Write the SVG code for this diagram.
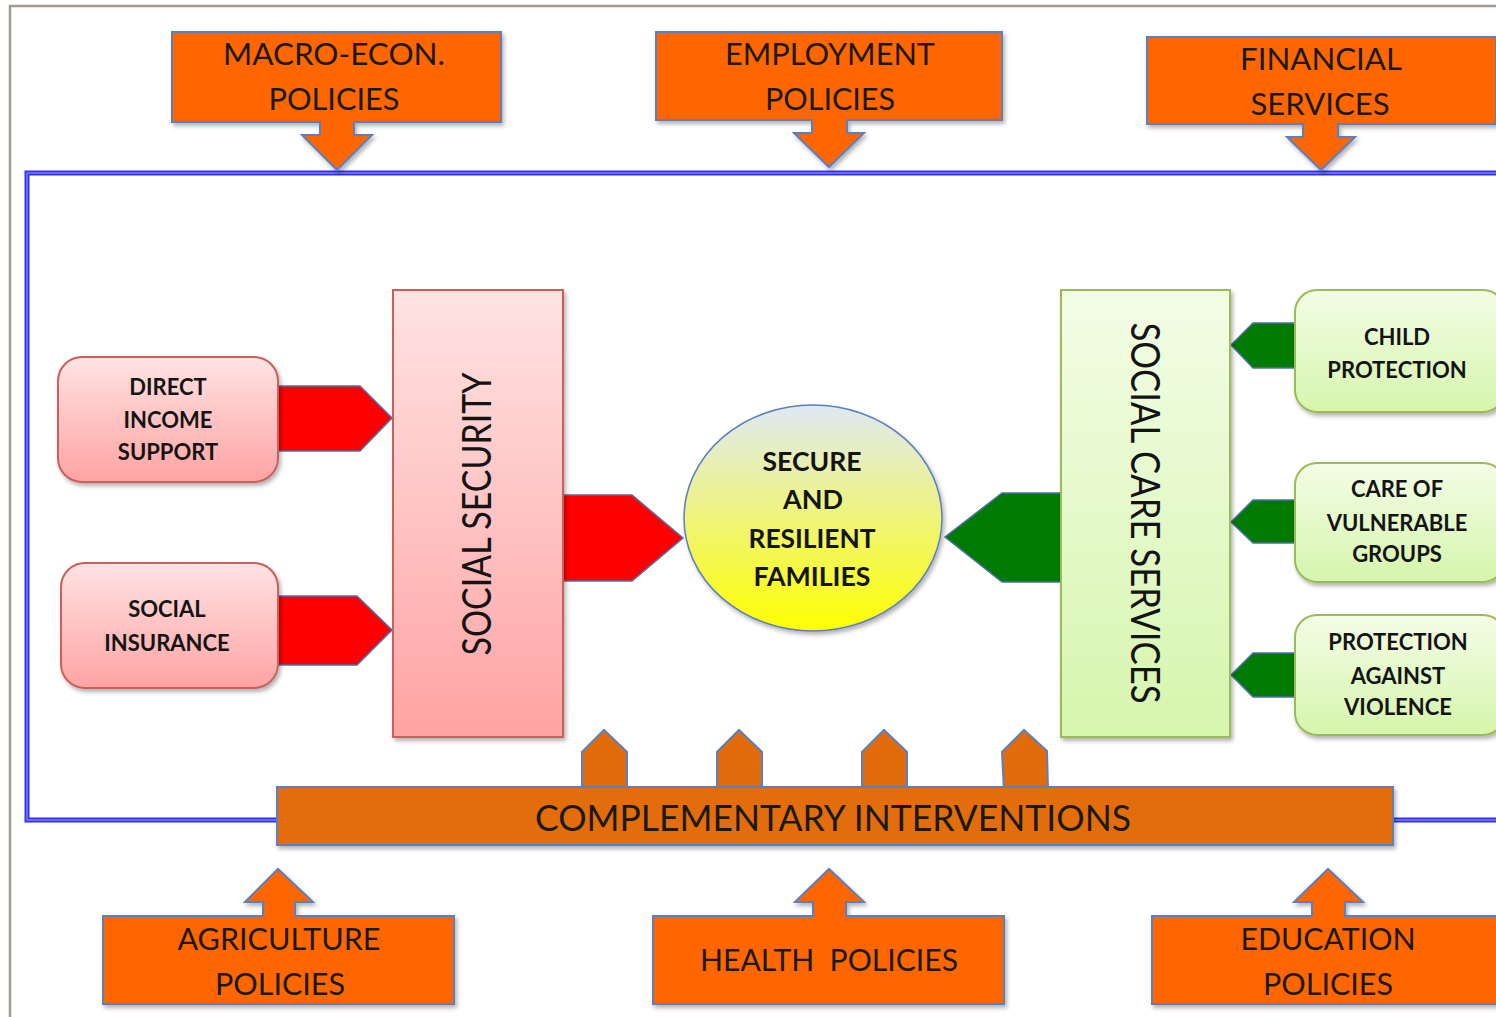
<svg xmlns="http://www.w3.org/2000/svg" width="1496" height="1017" viewBox="0 0 1496 1017">
<defs>
<style>
.pol{fill:#ff6600;stroke:#5b7fbf;stroke-width:2;filter:url(#sh)}
.ptx{font-family:Lato,"Open Sans",sans-serif;font-size:30px;fill:#1a1a0a;text-anchor:middle}
.bx{font-family:Lato,"Open Sans",sans-serif;font-size:22px;font-weight:bold;fill:#141414;text-anchor:middle}
.cx{font-family:Lato,"Open Sans",sans-serif;font-size:26px;font-weight:bold;fill:#141414;text-anchor:middle}
.red{fill:#ff0000;stroke:#4f6fb0;stroke-width:1.5}
.grn{fill:#007a00;stroke:#4f6fb0;stroke-width:1.5}
.up{fill:#e36c0a;stroke:#5b7fbf;stroke-width:2}
</style>
<filter id="sh" x="-10%" y="-10%" width="125%" height="130%">
<feDropShadow dx="2" dy="3" stdDeviation="2" flood-color="#000" flood-opacity="0.3"/>
</filter>
<linearGradient id="pink" x1="0" y1="0" x2="0" y2="1">
<stop offset="0" stop-color="#ffe3e3"/><stop offset="1" stop-color="#ffa3a3"/>
</linearGradient>
<linearGradient id="lgreen" x1="0" y1="0" x2="0" y2="1">
<stop offset="0" stop-color="#f3fde6"/><stop offset="1" stop-color="#d6f5ad"/>
</linearGradient>
<linearGradient id="circ" x1="0" y1="0" x2="0" y2="1">
<stop offset="0" stop-color="#dfe9f3"/><stop offset="1" stop-color="#ffff00"/>
</linearGradient>
</defs>
<rect width="1496" height="1017" fill="#ffffff"/>
<!-- page border -->
<path d="M10,1017 V6 H1496" fill="none" stroke="#a39a92" stroke-width="2.5"/>
<!-- blue frame -->
<g id="frame">
<rect x="27" y="173" width="1480" height="647" fill="none" stroke="#3030f0" stroke-width="5"/>
<rect x="27" y="173" width="1480" height="647" fill="none" stroke="#8a8aff" stroke-width="1.3"/>
</g>
<!-- connectors -->
<g id="connectors">
<path class="red" d="M278,386 H360 L392,418 L360,451 H278 Z"/>
<path class="red" d="M278,596 H357 L392,630 L357,665 H278 Z"/>
<path class="red" d="M563,495 H632 L683,538 L632,581 H563 Z"/>
<path class="grn" d="M1061,493 H1002 L945,537 L1002,582 H1061 Z"/>
<path class="grn" d="M1295,323 H1253 L1231,345 L1253,368 H1295 Z"/>
<path class="grn" d="M1295,500 H1253 L1231,522 L1253,543 H1295 Z"/>
<path class="grn" d="M1295,653 H1253 L1231,675 L1253,697 H1295 Z"/>
<path class="up" d="M582,790 V752 L604,730 L627,752 V790 Z"/>
<path class="up" d="M717,790 V752 L739,730 L762,752 V790 Z"/>
<path class="up" d="M862,790 V752 L884,730 L907,752 V790 Z"/>
<path class="up" d="M1004,791 L1002,752 L1024,730 L1047,751 L1048,790 Z"/>
</g>
<!-- top policy nodes -->
<g id="macro">
<path class="pol" d="M172,32 H501 V122 H354 V135 H372 L337,170 L302,135 H320 V122 H172 Z"/>
<text class="ptx" x="334" y="65" textLength="222" lengthAdjust="spacingAndGlyphs">MACRO-ECON.</text>
<text class="ptx" x="334" y="110" textLength="131" lengthAdjust="spacingAndGlyphs">POLICIES</text>
</g>
<g id="employment">
<path class="pol" d="M656,32 H1002 V120 H847 V133 H864 L829,167 L794,133 H812 V120 H656 Z"/>
<text class="ptx" x="830" y="65" textLength="210" lengthAdjust="spacingAndGlyphs">EMPLOYMENT</text>
<text class="ptx" x="830" y="110" textLength="130" lengthAdjust="spacingAndGlyphs">POLICIES</text>
</g>
<g id="financial">
<path class="pol" d="M1147,37 H1496 V124 H1338 V137 H1355 L1321,170 L1287,137 H1303 V124 H1147 Z"/>
<text class="ptx" x="1321" y="70" textLength="162" lengthAdjust="spacingAndGlyphs">FINANCIAL</text>
<text class="ptx" x="1320" y="115" textLength="139" lengthAdjust="spacingAndGlyphs">SERVICES</text>
</g>
<!-- left nodes -->
<g id="direct">
<rect x="58" y="357" width="220" height="125" rx="24" fill="url(#pink)" stroke="#c9605c" stroke-width="2" filter="url(#sh)"/>
<text class="bx" x="168" y="395">DIRECT</text>
<text class="bx" x="168" y="428">INCOME</text>
<text class="bx" x="168" y="460">SUPPORT</text>
</g>
<g id="insurance">
<rect x="61" y="563" width="217" height="125" rx="24" fill="url(#pink)" stroke="#c9605c" stroke-width="2" filter="url(#sh)"/>
<text class="bx" x="167" y="617">SOCIAL</text>
<text class="bx" x="167" y="651">INSURANCE</text>
</g>
<g id="socialsecurity">
<rect x="393" y="290" width="170" height="447" fill="url(#pink)" stroke="#cc5f5c" stroke-width="2" filter="url(#sh)"/>
<text x="0" y="0" transform="translate(491,514) rotate(-90)" font-family="Lato,'Open Sans',sans-serif" font-size="40" fill="#141414" text-anchor="middle" textLength="283" lengthAdjust="spacingAndGlyphs">SOCIAL SECURITY</text>
</g>
<!-- center -->
<g id="families">
<ellipse cx="813" cy="518" rx="129" ry="113" fill="url(#circ)" stroke="#5b7fbf" stroke-width="1.5" filter="url(#sh)"/>
<text class="cx" x="812" y="471" textLength="99" lengthAdjust="spacingAndGlyphs">SECURE</text>
<text class="cx" x="813" y="509" textLength="60" lengthAdjust="spacingAndGlyphs">AND</text>
<text class="cx" x="812" y="548" textLength="127" lengthAdjust="spacingAndGlyphs">RESILIENT</text>
<text class="cx" x="812" y="586" textLength="117" lengthAdjust="spacingAndGlyphs">FAMILIES</text>
</g>
<!-- right nodes -->
<g id="socialcare">
<rect x="1061" y="290" width="169" height="447" fill="url(#lgreen)" stroke="#9bbb59" stroke-width="2" filter="url(#sh)"/>
<text x="0" y="0" transform="translate(1131,513) rotate(90)" font-family="Lato,'Open Sans',sans-serif" font-size="40" fill="#141414" text-anchor="middle" textLength="381" lengthAdjust="spacingAndGlyphs">SOCIAL CARE SERVICES</text>
</g>
<g id="child">
<rect x="1295" y="290" width="210" height="122" rx="22" fill="url(#lgreen)" stroke="#9bbb59" stroke-width="2" filter="url(#sh)"/>
<text class="bx" x="1397" y="345">CHILD</text>
<text class="bx" x="1397" y="378">PROTECTION</text>
</g>
<g id="vulnerable">
<rect x="1295" y="463" width="210" height="119" rx="22" fill="url(#lgreen)" stroke="#9bbb59" stroke-width="2" filter="url(#sh)"/>
<text class="bx" x="1397" y="497">CARE OF</text>
<text class="bx" x="1397" y="531">VULNERABLE</text>
<text class="bx" x="1397" y="562">GROUPS</text>
</g>
<g id="violence">
<rect x="1295" y="615" width="210" height="120" rx="22" fill="url(#lgreen)" stroke="#9bbb59" stroke-width="2" filter="url(#sh)"/>
<text class="bx" x="1398" y="650">PROTECTION</text>
<text class="bx" x="1398" y="684">AGAINST</text>
<text class="bx" x="1398" y="715">VIOLENCE</text>
</g>
<!-- complementary bar -->
<g id="complementary">
<rect x="277" y="787" width="1116" height="58" fill="#e36c0a" stroke="#5b7fbf" stroke-width="2" filter="url(#sh)"/>
<text x="833" y="831" font-family="Lato,'Open Sans',sans-serif" font-size="36" fill="#1a1a0a" text-anchor="middle" textLength="596" lengthAdjust="spacingAndGlyphs">COMPLEMENTARY INTERVENTIONS</text>
</g>
<!-- bottom policy nodes -->
<g id="agriculture">
<path class="pol" d="M103,916 H263 V902 H245 L278,869 L313,902 H295 V916 H454 V1004 H103 Z"/>
<text class="ptx" x="279" y="950" textLength="203" lengthAdjust="spacingAndGlyphs">AGRICULTURE</text>
<text class="ptx" x="280" y="995" textLength="130" lengthAdjust="spacingAndGlyphs">POLICIES</text>
</g>
<g id="health">
<path class="pol" d="M653,916 H813 V902 H795 L829,869 L864,902 H846 V916 H1004 V1004 H653 Z"/>
<text class="ptx" x="829" y="971" textLength="258" lengthAdjust="spacingAndGlyphs" xml:space="preserve">HEALTH  POLICIES</text>
</g>
<g id="education">
<path class="pol" d="M1152,916 H1312 V902 H1294 L1328,869 L1363,902 H1345 V916 H1500 V1004 H1152 Z"/>
<text class="ptx" x="1328" y="950" textLength="175" lengthAdjust="spacingAndGlyphs">EDUCATION</text>
<text class="ptx" x="1328" y="995" textLength="130" lengthAdjust="spacingAndGlyphs">POLICIES</text>
</g>
</svg>
